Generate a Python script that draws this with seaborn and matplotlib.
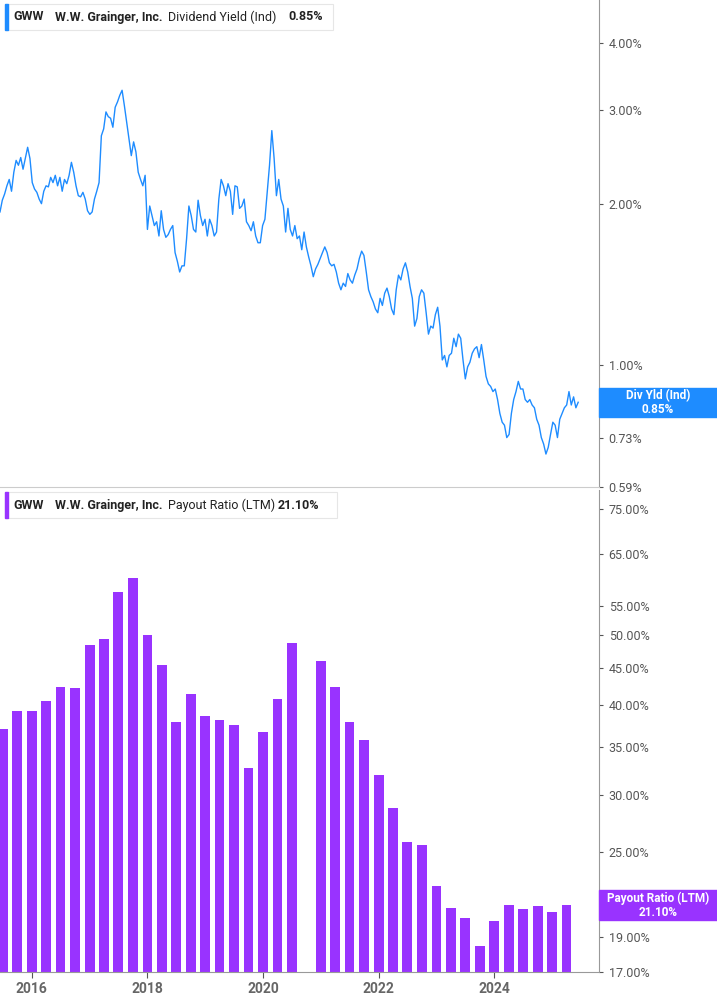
import numpy as np
import pandas as pd
import matplotlib
matplotlib.use("Agg")
import matplotlib.pyplot as plt
from matplotlib.patches import Rectangle
from matplotlib.ticker import FixedLocator, NullLocator
import seaborn as sns

plt.rcParams["font.family"] = "Roboto"

# Dividend yield (%), roughly two-week steps from mid-2015 to mid-2025
yield_start, yield_end = 2015.45, 2025.45
div_yield = [
    1.93, 2.03, 2.085, 2.16, 2.22, 2.11, 2.29, 2.41, 2.36, 2.44, 2.32, 2.43, 2.55, 2.43,
    2.19, 2.13, 2.10, 2.04, 2.00, 2.11, 2.16, 2.15, 2.24, 2.19, 2.26, 2.16, 2.24, 2.11,
    2.22, 2.18, 2.26, 2.39, 2.29, 2.16, 2.07, 2.06, 2.10, 2.04, 1.94, 1.91, 1.93, 2.04,
    2.11, 2.19, 2.68, 2.76, 2.97, 2.91, 2.89, 2.78, 3.03, 3.10, 3.19, 3.26, 3.05, 2.84,
    2.65, 2.46, 2.61, 2.50, 2.29, 2.22, 2.16, 2.26, 1.79, 1.98, 1.90, 1.82, 1.85, 1.74,
    1.94, 1.79, 1.73, 1.75, 1.79, 1.82, 1.62, 1.56, 1.49, 1.53, 1.53, 1.72, 1.98, 1.90,
    1.79, 1.77, 2.03, 1.90, 1.82, 1.87, 1.74, 1.87, 1.82, 1.74, 1.77, 2.04, 2.22, 2.16,
    2.07, 2.18, 2.11, 1.91, 2.16, 2.15, 1.96, 1.98, 2.04, 1.85, 1.82, 1.78, 1.85, 1.74,
    1.69, 1.69, 1.82, 1.87, 2.10, 2.36, 2.74, 2.43, 2.07, 2.22, 2.04, 1.98, 1.77, 1.96,
    1.79, 1.74, 1.82, 1.72, 1.74, 1.64, 1.77, 1.66, 1.59, 1.53, 1.46, 1.51, 1.54, 1.58,
    1.62, 1.66, 1.62, 1.55, 1.53, 1.54, 1.49, 1.42, 1.38, 1.42, 1.40, 1.48, 1.44, 1.42,
    1.47, 1.51, 1.58, 1.63, 1.60, 1.49, 1.38, 1.34, 1.31, 1.27, 1.25, 1.33, 1.29, 1.36,
    1.39, 1.34, 1.27, 1.24, 1.38, 1.47, 1.44, 1.51, 1.55, 1.49, 1.40, 1.33, 1.18, 1.22,
    1.34, 1.38, 1.36, 1.25, 1.14, 1.18, 1.17, 1.24, 1.28, 1.18, 1.02, 1.04, 0.99, 1.04,
    1.05, 1.12, 1.08, 1.14, 1.12, 1.02, 0.94, 0.99, 1.01, 1.05, 1.07, 1.08, 1.03, 1.09,
    1.02, 0.95, 0.92, 0.91, 0.89, 0.90, 0.86, 0.81, 0.78, 0.77, 0.73, 0.74, 0.81, 0.86,
    0.89, 0.93, 0.90, 0.90, 0.86, 0.85, 0.86, 0.84, 0.83, 0.79, 0.77, 0.73, 0.71, 0.68,
    0.70, 0.74, 0.78, 0.77, 0.73, 0.79, 0.81, 0.83, 0.84, 0.89, 0.84, 0.87, 0.83, 0.85,
]

# Payout ratio (LTM, %) by quarter end, Jun 2015 .. Mar 2025 (Sep 2020 missing)
quarters = pd.period_range("2015Q2", "2025Q1", freq="Q")
payout = [
    37.1, 39.2, 39.3, 40.5, 42.4, 42.3, 48.5, 49.4, 57.4, 60.2,
    50.0, 45.5, 37.9, 41.4, 38.6, 38.1, 37.5, 32.7, 36.7, 40.8,
    48.8, np.nan, 46.0, 42.4, 37.9, 35.8, 32.0, 28.8, 25.8, 25.5,
    22.4, 20.9, 20.2, 18.5, 20.0, 21.1, 20.8, 21.0, 20.6, 21.1,
]

yield_ticks = [4.0, 3.0, 2.0, 1.0, 0.73, 0.59]
payout_ticks = [75, 65, 55, 50, 45, 40, 35, 30, 25, 19, 17]
year_ticks = [2016, 2018, 2020, 2022, 2024]

BLUE = "#1e8cff"
PURPLE = "#9933ff"
GRAY = "#555555"

def qend(p):
    ts = p.end_time
    return ts.year + (ts.dayofyear) / 365.25

yld = pd.DataFrame({"t": np.linspace(yield_start, yield_end, len(div_yield)), "y": div_yield})
pay = pd.DataFrame({"t": [qend(q) for q in quarters], "v": payout}).dropna()

W, H = 717, 1005
fig = plt.figure(figsize=(W / 100, H / 100), dpi=100)
ax1 = fig.add_axes([0, 1 - 487 / H, 599 / W, 487 / H])
ax2 = fig.add_axes([0, 1 - 972 / H, 599 / W, (972 - 490) / H])
xlim = (2015.45, 2025.81)

# top: dividend yield line
ax1.set_yscale("log")
sns.lineplot(data=yld, x="t", y="y", ax=ax1, color=BLUE, linewidth=1)
ax1.set_ylim(0.59, 4.81)

# bottom: payout ratio bars
ax2.set_yscale("log")
sns.barplot(data=pay, x="t", y="v", ax=ax2, native_scale=True, color=PURPLE,
            width=0.69, saturation=1, edgecolor="none", bottom=0.001)
ax2.set_ylim(17, 79.7)

for ax, ticks, fmt in [(ax1, yield_ticks, "{:.2f}%"), (ax2, payout_ticks, "{:.2f}%")]:
    ax.set_xlim(*xlim)
    ax.yaxis.tick_right()
    ax.yaxis.set_major_locator(FixedLocator(ticks))
    ax.yaxis.set_minor_locator(NullLocator())
    ax.set_yticklabels([fmt.format(t) for t in ticks])
    ax.tick_params(axis="y", colors=GRAY, labelsize=9, length=3, pad=4)
    ax.set_xlabel("")
    ax.set_ylabel("")
    for s in ["top", "left"]:
        ax.spines[s].set_visible(False)
    ax.spines["right"].set_color("#999999")
    ax.spines["bottom"].set_color("#cccccc")
    ax.set_facecolor("none")

ax1.set_xticks([])
ax2.set_xticks(year_ticks)
ax2.set_xticklabels([str(y) for y in year_ticks], fontweight="bold")
ax2.tick_params(axis="x", colors=GRAY, labelsize=10, length=4)
for lbl in ax2.get_xticklabels():
    lbl.set_color("#666666")
ax2.spines["bottom"].set_color("#999999")

# right-side value tags
def tag(ytop, ybot, color, text):
    fig.patches.append(Rectangle((599 / W, 1 - ybot / H), 118 / W, (ybot - ytop) / H,
                                 transform=fig.transFigure, color=color, zorder=5))
    fig.text(658 / W, 1 - (ytop + ybot) / 2 / H, text, ha="center", va="center",
             color="white", fontsize=8.5, fontweight="bold", zorder=6, linespacing=1.1)

tag(388, 417, BLUE, "Div Yld (Ind)\n0.85%")
tag(890, 920, PURPLE, "Payout Ratio (LTM)\n21.10%")

# legend boxes
def legend_box(ytop, ybot, x1, color, label, value, vx):
    fig.patches.append(Rectangle((5 / W, 1 - ybot / H), (x1 - 5) / W, (ybot - ytop) / H,
                                 transform=fig.transFigure, facecolor="white",
                                 edgecolor="#e6e6e6", linewidth=0.8, zorder=5))
    fig.patches.append(Rectangle((5 / W, 1 - ybot / H), 3 / W, (ybot - ytop) / H,
                                 transform=fig.transFigure, color=color, zorder=6))
    yc = 1 - (ytop + ybot) / 2 / H
    kw = dict(va="center", fontsize=9, color="#222222", zorder=7)
    fig.text(13 / W, yc, "GWW", fontweight="bold", **kw)
    fig.text(55 / W, yc, "W.W. Grainger, Inc.", fontweight="bold", **kw)
    fig.text(168 / W, yc, label, **kw)
    fig.text(vx / W, yc, value, fontweight="bold", **kw)

legend_box(4, 30, 333, BLUE, "Dividend Yield (Ind)", "0.85%", 288)
legend_box(492, 518, 337, PURPLE, "Payout Ratio (LTM)", "21.10%", 278)

fig.savefig("out.png", dpi=100)
